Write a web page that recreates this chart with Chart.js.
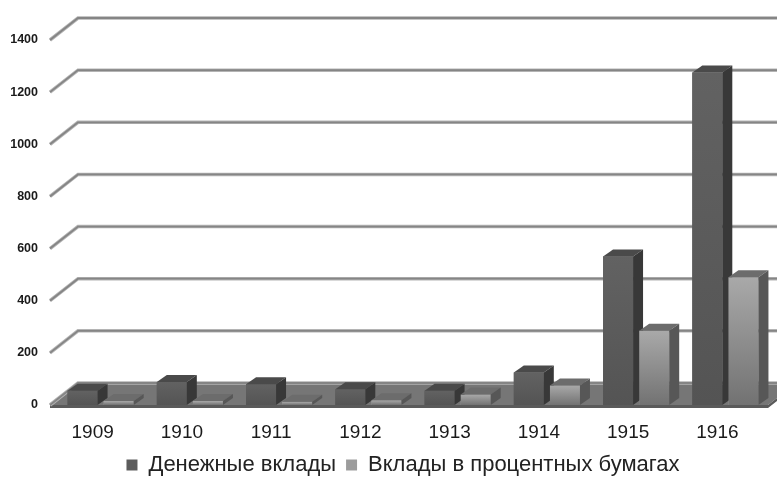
<!DOCTYPE html>
<html lang="ru">
<head>
<meta charset="UTF-8">
<title>Денежные вклады и вклады в процентных бумагах</title>
<script src="https://cdn.jsdelivr.net/npm/chart.js"></script>
<style>
  html, body { margin: 0; padding: 0; background: #fff; }
  #wrap { width: 777px; height: 479px; }
</style>
</head>
<body>
<div id="wrap"><canvas id="depositChart" width="777" height="479"></canvas></div>
<script>
// data
const years = ['1909', '1910', '1911', '1912', '1913', '1914', '1915', '1916'];
const cashDeposits = [55, 88, 80, 60, 55, 125, 570, 1275];
const securitiesDeposits = [15, 15, 12, 18, 40, 75, 285, 490];
const yTicks = [0, 200, 400, 600, 800, 1000, 1200, 1400];

// 3d look
const WALL_DX = 28, WALL_DY = 22;
const BAR_DX = 10, BAR_DY = 7;
const faces = [
  { top: '#4a4a4a', side: '#383838', front: ['#626262', '#545454'] },
  { top: '#6c6c6c', side: '#575757', front: ['#a9a9a9', '#727272'] }
];
const legendFill = ['#5c5c5c', '#9c9c9c'];

const wall3d = {
  id: 'wall3d',
  afterLayout(chart) {
    // legend sits a little right of the page centre in the original
    chart.legend.left += 18;
    chart.legend.right += 18;
  },
  beforeDatasetsDraw(chart) {
    const { ctx, chartArea, scales: { y } } = chart;
    const x0 = chartArea.left - 6;
    const x1 = chartArea.right - 2;
    const base = y.getPixelForValue(0);
    ctx.save();
    // floor
    ctx.fillStyle = '#767676';
    ctx.beginPath();
    ctx.moveTo(x0, base);
    ctx.lineTo(x1, base);
    ctx.lineTo(x1 + WALL_DX, base - WALL_DY);
    ctx.lineTo(x0 + WALL_DX, base - WALL_DY);
    ctx.closePath();
    ctx.fill();
    // floor front edge
    ctx.fillStyle = '#5a5a5a';
    ctx.beginPath();
    ctx.moveTo(x0, base);
    ctx.lineTo(x1, base);
    ctx.lineTo(x1 + WALL_DX, base - WALL_DY);
    ctx.lineTo(x1 + WALL_DX, base - WALL_DY + 3);
    ctx.lineTo(x1, base + 3);
    ctx.lineTo(x0, base + 3);
    ctx.closePath();
    ctx.fill();
    // grid lines on the side and back wall
    yTicks.forEach(v => {
      const py = y.getPixelForValue(v);
      ctx.beginPath();
      ctx.moveTo(x0, py);
      ctx.lineTo(x0 + WALL_DX, py - WALL_DY);
      ctx.lineTo(chart.width, py - WALL_DY);
      ctx.strokeStyle = '#b4b4b4';
      ctx.lineWidth = 3.5;
      ctx.stroke();
      ctx.strokeStyle = '#858585';
      ctx.lineWidth = 1.8;
      ctx.stroke();
    });
    ctx.restore();
  },
  afterDatasetsDraw(chart) {
    // redraw each column as a box, left to right, so later ones overlap earlier sides
    const { ctx } = chart;
    const metas = [chart.getDatasetMeta(0), chart.getDatasetMeta(1)];
    ctx.save();
    years.forEach((_, i) => {
      metas.forEach((meta, d) => {
        const f = faces[d];
        const { x, y, base, width } = meta.data[i].getProps(['x', 'y', 'base', 'width'], true);
        const l = x - width / 2, r = x + width / 2;
        const g = ctx.createLinearGradient(0, y, 0, base);
        g.addColorStop(0, f.front[0]);
        g.addColorStop(1, f.front[1]);
        ctx.fillStyle = g;
        ctx.fillRect(l, y, width, base - y);
        ctx.fillStyle = f.top;
        ctx.beginPath();
        ctx.moveTo(l, y);
        ctx.lineTo(r, y);
        ctx.lineTo(r + BAR_DX, y - BAR_DY);
        ctx.lineTo(l + BAR_DX, y - BAR_DY);
        ctx.closePath();
        ctx.fill();
        ctx.fillStyle = f.side;
        ctx.beginPath();
        ctx.moveTo(r, y);
        ctx.lineTo(r + BAR_DX, y - BAR_DY);
        ctx.lineTo(r + BAR_DX, base - BAR_DY);
        ctx.lineTo(r, base);
        ctx.closePath();
        ctx.fill();
      });
    });
    ctx.restore();
  }
};

new Chart(document.getElementById('depositChart'), {
  type: 'bar',
  data: {
    labels: years,
    datasets: [
      { label: 'Денежные вклады', data: cashDeposits, backgroundColor: legendFill[0] },
      { label: 'Вклады в процентных бумагах', data: securitiesDeposits, backgroundColor: legendFill[1] }
    ]
  },
  options: {
    responsive: false,
    animation: false,
    categoryPercentage: 0.81,
    barPercentage: 0.83,
    layout: { padding: { top: 40, right: 7, bottom: -7, left: 0 } },
    scales: {
      x: {
        grid: { display: false, drawTicks: false },
        border: { display: false },
        afterFit: s => { s.height = 39; },
        ticks: {
          padding: 16,
          labelOffset: -8,
          color: '#1a1a1a',
          font: { family: 'Liberation Sans', size: 19 }
        }
      },
      y: {
        min: 0,
        max: 1400,
        grid: { display: false, drawTicks: false },
        border: { display: false },
        afterFit: s => { s.width = 56; },
        afterBuildTicks: s => { s.ticks = yTicks.map(v => ({ value: v })); },
        ticks: {
          padding: 18,
          color: '#1a1a1a',
          callback: v => String(v),
          font: { family: 'Liberation Sans', size: 12.5, weight: 'bold' }
        }
      }
    },
    plugins: {
      tooltip: { enabled: false },
      legend: {
        position: 'bottom',
        labels: {
          boxWidth: 11,
          boxHeight: 11,
          padding: 10,
          color: '#222',
          font: { family: 'Liberation Sans', size: 22 },
          generateLabels: chart => chart.data.datasets.map((ds, i) => ({
            text: ds.label,
            fillStyle: legendFill[i],
            strokeStyle: legendFill[i],
            lineWidth: 0,
            hidden: false,
            datasetIndex: i,
            fontColor: '#222'
          }))
        }
      }
    }
  },
  plugins: [wall3d]
});
</script>
</body>
</html>
